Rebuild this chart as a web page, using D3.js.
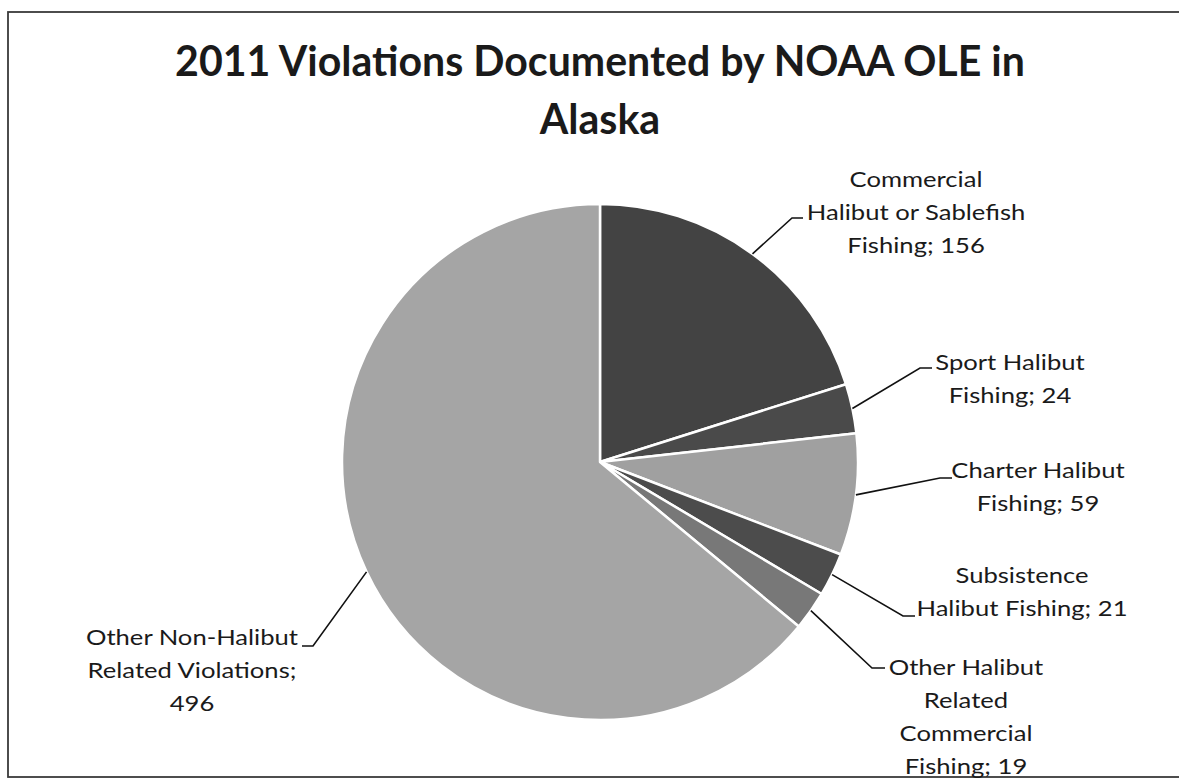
<!DOCTYPE html>
<html>
<head>
<meta charset="utf-8">
<script src="https://cdn.jsdelivr.net/npm/d3@7"></script>
<style>
  body { margin: 0; background: #fff; }
  svg { display: block; }
  text { font-family: Lato, "Open Sans", sans-serif; fill: #1a1a1a; }
</style>
</head>
<body>
<div id="chart"></div>
<script>
// data
var title = ["2011 Violations Documented by NOAA OLE in", "Alaska"];
var categories = [
  "Commercial Halibut or Sablefish Fishing",
  "Sport Halibut Fishing",
  "Charter Halibut Fishing",
  "Subsistence Halibut Fishing",
  "Other Halibut Related Commercial Fishing",
  "Other Non-Halibut Related Violations"
];
var values = [156, 24, 59, 21, 19, 496];
var labelLines = [
  ["Commercial", "Halibut or Sablefish", "Fishing; 156"],
  ["Sport Halibut", "Fishing; 24"],
  ["Charter Halibut", "Fishing; 59"],
  ["Subsistence", "Halibut Fishing; 21"],
  ["Other Halibut", "Related", "Commercial", "Fishing; 19"],
  ["Other Non-Halibut", "Related Violations;", "496"]
];
var colors = ["#434343", "#4a4a4a", "#a0a0a0", "#4c4c4c", "#787878", "#a5a5a5"];

// label layout: text centre, first baseline, leader elbow, tick end
var labelLayout = [
  { cx: 916, y: 187, ex: 792, ey: 218, tx: 803 },
  { cx: 1010, y: 370, ex: 920, ey: 368, tx: 932 },
  { cx: 1038, y: 478, ex: 940, ey: 478, tx: 952 },
  { cx: 1022, y: 583, ex: 903, ey: 616, tx: 915 },
  { cx: 966, y: 675, ex: 872, ey: 668, tx: 885 },
  { cx: 192, y: 645, ex: 313, ey: 646, tx: 302 }
];

var W = 1179, H = 779;
var cx = 600, cy = 462, radius = 258;
var stretch = 1.22; // the scanned text is wider than the font

var svg = d3.select("#chart").append("svg")
  .attr("width", W)
  .attr("height", H);

// frame
svg.append("rect")
  .attr("x", 8).attr("y", 12)
  .attr("width", W + 10).attr("height", 765)
  .attr("fill", "none")
  .attr("stroke", "#3a3a3a")
  .attr("stroke-width", 1.8);

// title, sized to match the width of the first line
var t1 = svg.append("text")
  .attr("x", cx).attr("y", 76)
  .attr("text-anchor", "middle")
  .style("font-weight", "bold")
  .style("font-size", "40px")
  .text(title[0]);
var fs = 40 * 850 / t1.node().getComputedTextLength();
t1.style("font-size", fs + "px");
svg.append("text")
  .attr("x", cx).attr("y", 134)
  .attr("text-anchor", "middle")
  .style("font-weight", "bold")
  .style("font-size", fs + "px")
  .text(title[1]);

var pie = d3.pie().sort(null).value(function (d) { return d; });
var arcs = pie(values);
var arc = d3.arc().innerRadius(0).outerRadius(radius);
var edge = d3.arc().innerRadius(radius).outerRadius(radius);

var g = svg.append("g").attr("transform", "translate(" + cx + "," + cy + ")");

g.selectAll("path.slice")
  .data(arcs)
  .enter()
  .append("path")
  .attr("class", "slice")
  .attr("d", arc)
  .attr("fill", function (d, i) { return colors[i]; })
  .attr("stroke", "#fff")
  .attr("stroke-width", 2.5)
  .attr("stroke-linejoin", "round");

// leader lines
arcs.forEach(function (d, i) {
  var p = edge.centroid(d);
  var L = labelLayout[i];
  svg.append("polyline")
    .attr("points", [
      [cx + p[0], cy + p[1]],
      [L.ex, L.ey],
      [L.tx, L.ey]
    ].map(function (q) { return q.join(","); }).join(" "))
    .attr("fill", "none")
    .attr("stroke", "#111")
    .attr("stroke-width", 1.6);
});

// labels
var labelSize = 21;
labelLines.forEach(function (lines, i) {
  var L = labelLayout[i];
  var t = svg.append("text")
    .attr("transform", "translate(" + L.cx + ",0) scale(" + stretch + ",1)")
    .attr("text-anchor", "middle")
    .style("font-size", labelSize + "px");
  lines.forEach(function (s, j) {
    t.append("tspan")
      .attr("x", 0)
      .attr("y", L.y + j * 33)
      .text(s);
  });
});
</script>
</body>
</html>
